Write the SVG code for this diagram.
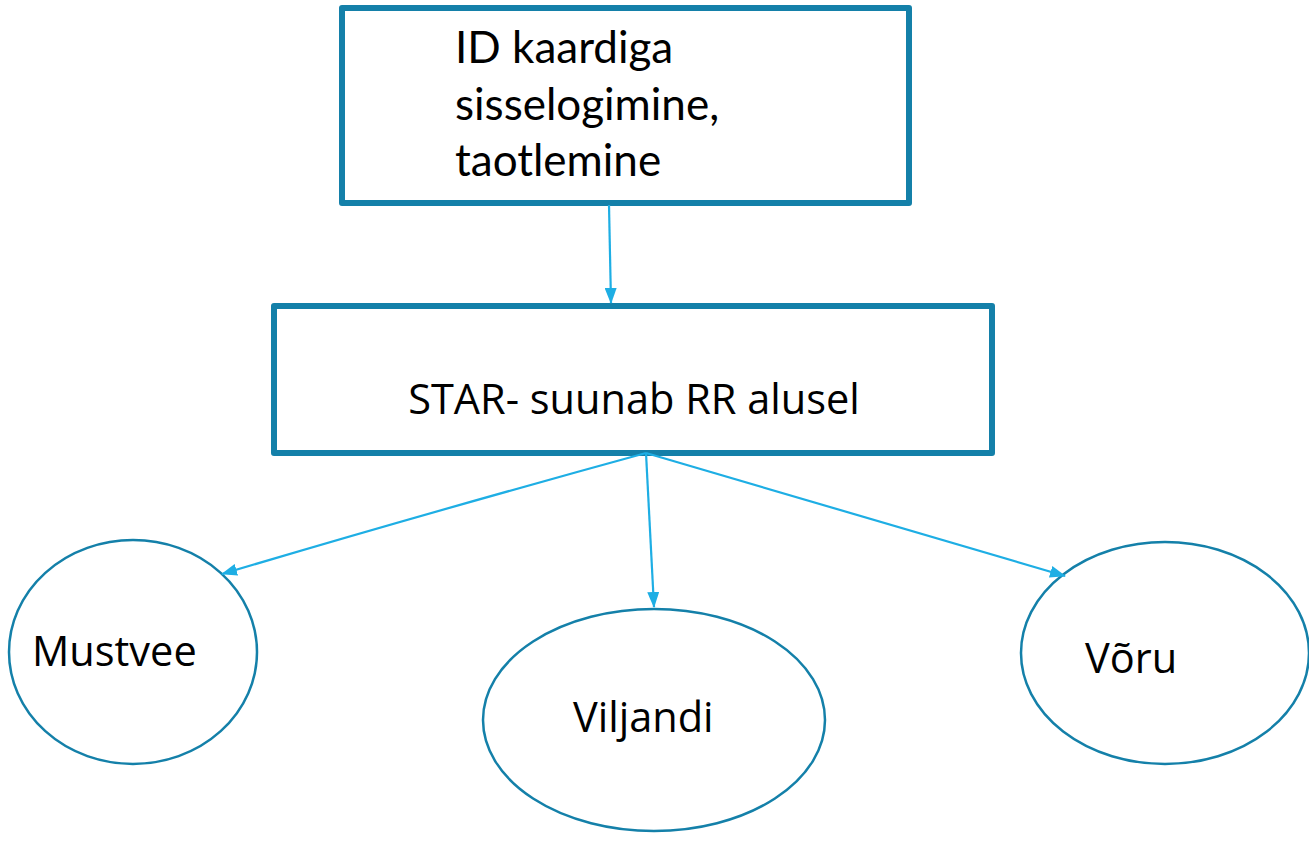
<svg xmlns="http://www.w3.org/2000/svg" width="1309" height="845" viewBox="0 0 1309 845">
<style>
.box{fill:#fff;stroke:#1480A9;stroke-width:6;stroke-linejoin:round}
.ell{fill:#fff;stroke:#1480A9;stroke-width:2.5}
.con{fill:none;stroke:#1EAEE4;stroke-width:2.2}
.t1{font-family:Lato,"Open Sans",sans-serif;font-size:44px;fill:#000}
.t2{font-family:"Open Sans","Noto Sans",sans-serif;font-size:41.5px;fill:#000}
</style>
<defs>
<marker id="ah" viewBox="0 0 16 12" refX="15" refY="6" markerWidth="16" markerHeight="12" orient="auto" markerUnits="userSpaceOnUse">
<path d="M0,0 L16,6 L0,12 z" fill="#1EAEE4"/>
</marker>
</defs>
<g id="node-login">
<rect class="box" x="342" y="8" width="567" height="195"/>
<text class="t1" x="455" y="63">ID kaardiga</text>
<text class="t1" x="455" y="120">sisselogimine,</text>
<text class="t1" x="455" y="176">taotlemine</text>
</g>
<g id="node-star">
<rect class="box" x="274" y="306" width="718" height="147"/>
<text class="t2" x="634" y="414" text-anchor="middle">STAR- suunab RR alusel</text>
</g>
<g id="node-mustvee">
<ellipse class="ell" cx="133" cy="652" rx="124" ry="112"/>
<text class="t2" x="32" y="666">Mustvee</text>
</g>
<g id="node-viljandi">
<ellipse class="ell" cx="654" cy="720" rx="171" ry="111"/>
<text class="t2" x="573" y="732">Viljandi</text>
</g>
<g id="node-voru">
<ellipse class="ell" cx="1165" cy="653" rx="144" ry="111"/>
<text class="t2" x="1085" y="673">Võru</text>
</g>
<g id="connectors">
<path class="con" d="M609,205 L611,303" marker-end="url(#ah)"/>
<path class="con" d="M646,453 Q420,515 222,574" marker-end="url(#ah)"/>
<path class="con" d="M646,453 L654,607" marker-end="url(#ah)"/>
<path class="con" d="M646,453 L1065,576" marker-end="url(#ah)"/>
</g>
</svg>
